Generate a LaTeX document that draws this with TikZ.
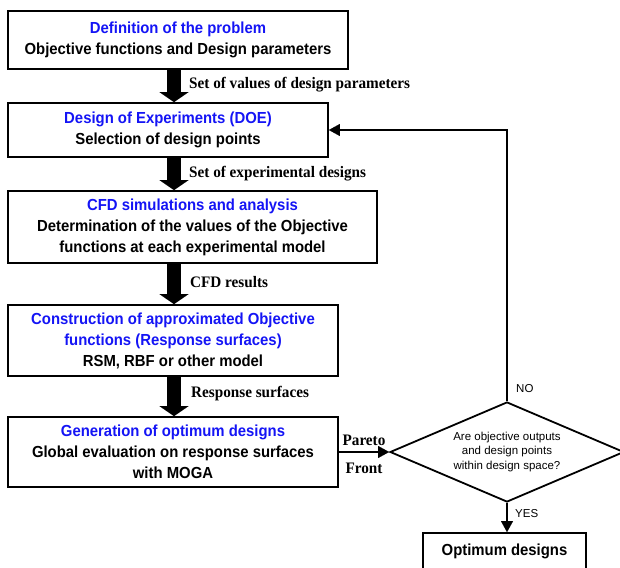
\documentclass[tikz,border=0pt]{standalone}
\usepackage{fontspec}
\usetikzlibrary{arrows.meta,shapes.geometric}
\newfontfamily\boxfont[FakeStretch=0.93]{Liberation Sans}
\newfontfamily\lblfont[FakeStretch=0.95]{Liberation Serif}
\newfontfamily\qfont{Liberation Sans}
\definecolor{titleblue}{RGB}{20,20,245}
\tikzset{
  stage/.style={draw, line width=1.8pt, align=center, inner sep=0pt,
    font=\boxfont\bfseries\fontsize{16}{21}\selectfont},
  flowlabel/.style={anchor=west, inner sep=0pt,
    font=\lblfont\bfseries\fontsize{16}{18}\selectfont},
  smalllabel/.style={inner sep=0pt, font=\qfont\fontsize{11.5}{14}\selectfont},
  blockarrow/.style={line width=14pt, -{Triangle[length=10pt,width=29pt,line width=0.01pt]}},
  thinarrow/.style={line width=2.2pt, -{Triangle[length=11pt,width=12pt,line width=0.01pt]}},
}
\newcommand{\ttl}[1]{\textcolor{titleblue}{#1}}
\begin{document}
\begin{tikzpicture}[x=1pt,y=-1pt]
\useasboundingbox (0,0) rectangle (620,567);
\clip (0,0) rectangle (620,567);

%Shape: Rectangle
\node [stage, minimum width=340pt, minimum height=58pt] (prob) at (178,40)
  {\ttl{Definition of the problem}\\Objective functions and Design parameters};
\node [stage, minimum width=320pt, minimum height=54pt] (doe) at (168,130)
  {\ttl{Design of Experiments (DOE)}\\Selection of design points};
\node [stage, minimum width=369pt, minimum height=72pt] (cfd) at (192.5,227)
  {\ttl{CFD simulations and analysis}\\Determination of the values of the Objective\\functions at each experimental model};
\node [stage, minimum width=330pt, minimum height=71pt] (rsm) at (173,340.5)
  {\ttl{Construction of approximated Objective}\\\ttl{functions (Response surfaces)}\\RSM, RBF or other model};
\node [stage, minimum width=330pt, minimum height=70pt] (moga) at (173,452)
  {\ttl{Generation of optimum designs}\\Global evaluation on response surfaces\\with MOGA};
\node [stage, minimum width=163pt, minimum height=36pt] (optimum) at (504.5,551)
  {Optimum designs};

%Shape: Diamond
\node [draw, shape=diamond, line width=1.8pt, shape aspect=2.34, inner sep=0pt,
  minimum width=234pt, minimum height=100pt, align=center,
  font=\qfont\fontsize{11.5}{14.5}\selectfont] (check) at (507,452)
  {Are objective outputs\\and design points\\within design space?};

%Block Arrows
\coordinate (spine) at (174,0);
\draw [blockarrow] (prob.south -| spine) -- (doe.north -| spine);
\draw [blockarrow] (doe.south -| spine) -- (cfd.north -| spine);
\draw [blockarrow] (cfd.south -| spine) -- (rsm.north -| spine);
\draw [blockarrow] (rsm.south -| spine) -- (moga.north -| spine);

%Straight Lines
\draw [thinarrow] (moga.east) -- (check.west);
\draw [thinarrow] (check.north) |- (doe.east);
\draw [thinarrow] (check.south) -- (check.south |- optimum.north);

% Text Node
\node [flowlabel] (lblparam) at (189,85) {Set of values of design parameters};
\node [flowlabel] (lbldesign) at (189,174) {Set of experimental designs};
\node [flowlabel] (lblcfd) at (190,282) {CFD results};
\node [flowlabel] (lblsurf) at (191,394) {Response surfaces};
\node [flowlabel, anchor=center] (lblpareto) at (364,440) {Pareto};
\node [flowlabel, anchor=center] (lblfront) at (364,468) {Front};
\node [smalllabel, anchor=west] (lblno) at (516,389) {NO};
\node [smalllabel, anchor=west] (lblyes) at (515,514) {YES};

\end{tikzpicture}
\end{document}
